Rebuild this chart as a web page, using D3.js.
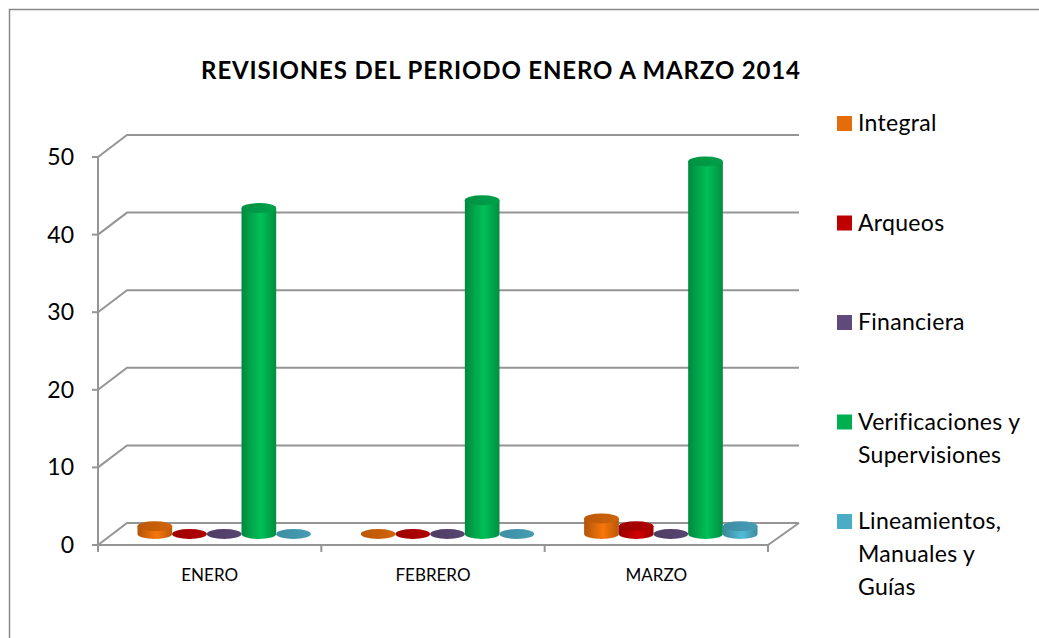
<!DOCTYPE html>
<html>
<head>
<meta charset="utf-8">
<script src="https://cdn.jsdelivr.net/npm/d3@7"></script>
<style>
  body { margin: 0; background: #fff; }
  text { font-family: Lato, "Open Sans", sans-serif; fill: #000; }
</style>
</head>
<body>
<script>
// Chart data
var categories = ["ENERO", "FEBRERO", "MARZO"];
var seriesNames = ["Integral", "Arqueos", "Financiera", "Verificaciones y Supervisiones", "Lineamientos, Manuales y Guías"];
var legendLines = [["Integral"], ["Arqueos"], ["Financiera"], ["Verificaciones y", "Supervisiones"], ["Lineamientos,", "Manuales y", "Guías"]];
var integral = [1, 0, 2];
var arqueos = [0, 0, 1];
var financiera = [0, 0, 0];
var verificaciones = [42, 43, 48];
var lineamientos = [0, 0, 1];
var yTicks = [0, 10, 20, 30, 40, 50];
var seriesValues = [integral, arqueos, financiera, verificaciones, lineamientos];
var seriesColors = ["#E46C0A", "#C00000", "#604A7B", "#00B050", "#4BACC6"];

var svgWidth = 1039;
var svgHeight = 638;

// 3D depth offset of the back wall
var depthX = 29, depthY = -22;

var svg = d3.select("body")
  .append("svg")
  .attr("width", svgWidth)
  .attr("height", svgHeight);

// Outer chart border
svg.append("rect")
  .attr("x", 9.5).attr("y", 9.5)
  .attr("width", 1040).attr("height", 640)
  .attr("fill", "none")
  .attr("stroke", "#888")
  .attr("stroke-width", 1.5);

// Title
svg.append("text")
  .attr("x", 501).attr("y", 79)
  .attr("text-anchor", "middle")
  .style("font-size", "24px")
  .style("font-weight", "bold")
  .style("letter-spacing", "0.85px")
  .text("REVISIONES DEL PERIODO ENERO A MARZO 2014");

// Scales (front plane)
var xScale = d3.scaleBand()
  .domain(categories)
  .range([98, 768]);

var xInner = d3.scaleBand()
  .domain(d3.range(seriesNames.length))
  .range([0, xScale.bandwidth()])
  .paddingOuter(0.72);

var yScale = d3.scaleLinear()
  .domain([0, 50])
  .range([545, 157]);

var grid = svg.append("g");
var gridColor = "#959595";

// Gridlines: side wall diagonal + back wall horizontal
yTicks.forEach(function(t) {
  var y0 = yScale(t);
  grid.append("path")
    .attr("d", `M${98},${y0} L${98 + depthX},${y0 + depthY} L${768 + depthX + 2},${y0 + depthY}`)
    .attr("fill", "none")
    .attr("stroke", gridColor)
    .attr("stroke-width", 2);
});

// Floor right edge and front edge
grid.append("path")
  .attr("d", `M${98},${yScale(0)} L${768},${yScale(0)} L${768 + depthX + 2},${yScale(0) + depthY}`)
  .attr("fill", "none")
  .attr("stroke", gridColor)
  .attr("stroke-width", 2);

// Value axis
grid.append("line")
  .attr("x1", 98).attr("x2", 98)
  .attr("y1", yScale(50)).attr("y2", yScale(0) + 7)
  .attr("stroke", gridColor).attr("stroke-width", 2);

yTicks.forEach(function(t) {
  grid.append("line")
    .attr("x1", 92).attr("x2", 98)
    .attr("y1", yScale(t)).attr("y2", yScale(t))
    .attr("stroke", gridColor).attr("stroke-width", 2);
  svg.append("text")
    .attr("x", 74).attr("y", yScale(t) + 8)
    .attr("text-anchor", "end")
    .style("font-size", "23px")
    .text(t);
});

// Category ticks and labels
var catEdges = categories.map(function(c) { return xScale(c); }).concat([xScale.range()[1]]);
catEdges.forEach(function(x) {
  grid.append("line")
    .attr("x1", x).attr("x2", x)
    .attr("y1", yScale(0)).attr("y2", yScale(0) + 7)
    .attr("stroke", gridColor).attr("stroke-width", 2);
});

svg.selectAll(".cat")
  .data(categories)
  .enter()
  .append("text")
  .attr("class", "cat")
  .attr("x", d => xScale(d) + xScale.bandwidth() / 2)
  .attr("y", 581)
  .attr("text-anchor", "middle")
  .style("font-size", "17px")
  .text(d => d);

// Gradients for cylinders
var defs = svg.append("defs");
seriesColors.forEach(function(c, i) {
  var base = d3.color(c);
  var g = defs.append("linearGradient")
    .attr("id", "body" + i)
    .attr("x1", 0).attr("x2", 1).attr("y1", 0).attr("y2", 0);
  g.append("stop").attr("offset", "0%").attr("stop-color", base.darker(0.7));
  g.append("stop").attr("offset", "55%").attr("stop-color", base.brighter(0.25));
  g.append("stop").attr("offset", "100%").attr("stop-color", base.darker(0.6));
  var t = defs.append("linearGradient")
    .attr("id", "top" + i)
    .attr("x1", 0).attr("x2", 1).attr("y1", 0).attr("y2", 0);
  t.append("stop").attr("offset", "0%").attr("stop-color", base.darker(0.55));
  t.append("stop").attr("offset", "100%").attr("stop-color", base.darker(0.25));
});

// Cylinders, drawn at mid depth
var rx = xInner.bandwidth() / 2;
var ry = 5;
var bars = [];
categories.forEach(function(c, ci) {
  seriesValues.forEach(function(vals, si) {
    bars.push({ cat: c, s: si, value: vals[ci] });
  });
});

var barGroup = svg.append("g");
bars.forEach(function(d) {
  var cx = xScale(d.cat) + xInner(d.s) + rx + depthX / 2;
  var yb = yScale(0) + depthY / 2;
  var yt = yScale(d.value) + depthY / 2;
  if (d.value > 0) {
    barGroup.append("path")
      .attr("d", `M${cx - rx},${yt} L${cx - rx},${yb} A${rx},${ry} 0 0 0 ${cx + rx},${yb} L${cx + rx},${yt} Z`)
      .attr("fill", `url(#body${d.s})`);
  }
  barGroup.append("ellipse")
    .attr("cx", cx).attr("cy", yt)
    .attr("rx", rx).attr("ry", ry)
    .attr("fill", `url(#top${d.s})`);
});

// Legend
var legend = svg.append("g");
legendLines.forEach(function(lines, i) {
  var yBase = 131 + i * 99.5;
  legend.append("rect")
    .attr("x", 837).attr("y", yBase - 15)
    .attr("width", 15).attr("height", 15)
    .attr("fill", seriesColors[i]);
  lines.forEach(function(line, li) {
    legend.append("text")
      .attr("x", 858).attr("y", yBase + li * 33)
      .style("font-size", "23px")
      .style("letter-spacing", "0.3px")
      .text(line);
  });
});
</script>
</body>
</html>
